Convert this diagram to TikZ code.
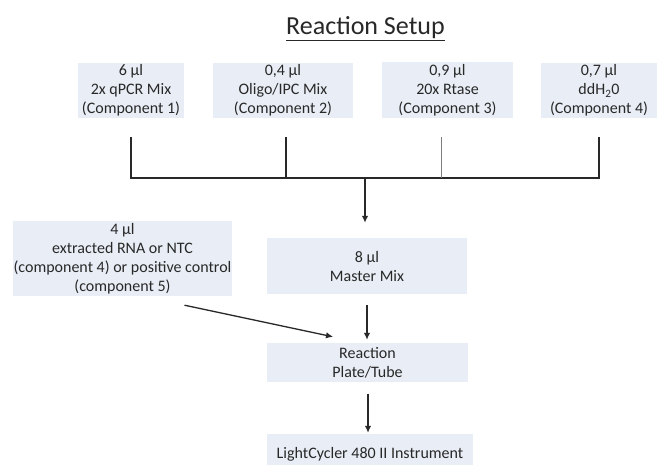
\documentclass[tikz,border=0pt]{standalone}
\usepackage{fontspec}
\setmainfont{Carlito}
\usetikzlibrary{arrows.meta}
\definecolor{boxfill}{RGB}{233,238,246}
\definecolor{ink}{RGB}{40,40,40}
\begin{document}
\begin{tikzpicture}[x=1pt,y=-1pt,
  boxnode/.style={fill=boxfill, draw=none, inner sep=0pt, align=center, text=ink,
    font=\fontsize{16}{19}\selectfont},
  ln/.style={draw=ink, line width=1.3pt},
  thinln/.style={draw=ink!60, line width=0.7pt},
  arr/.style={draw=ink, line width=1.3pt, -{Latex[length=7pt,width=6.5pt]}}]
\useasboundingbox (0,0) rectangle (659,464);
\fill[white] (0,0) rectangle (659,464);
% title
\node[text=ink, font=\fontsize{26}{31}\selectfont, inner sep=0pt] (title) at (365.5,29) {\underline{Reaction Setup}};
% top boxes
\node[boxnode, minimum width=106pt, minimum height=55pt] (b1) at (131,90.5) {6 µl\\2x qPCR Mix\\(Component 1)};
\node[boxnode, minimum width=140pt, minimum height=55pt] (b2) at (283,90.5) {0,4 µl\\Oligo/IPC Mix\\(Component 2)};
\node[boxnode, minimum width=131pt, minimum height=56pt] (b3) at (447.5,90) {0,9 µl\\20x Rtase\\(Component 3)};
\node[boxnode, minimum width=116pt, minimum height=55pt] (b4) at (599,90.5) {0,7 µl\\ddH\textsubscript{2}0\\(Component 4)};
% junction
\coordinate (j) at (365,178);
% middle boxes
\node[boxnode, minimum width=219pt, minimum height=75pt] (L) at (122.5,258.5) {4 µl\\extracted RNA or NTC\\(component 4) or positive control\\(component 5)};
\node[boxnode, minimum width=200pt, minimum height=56pt] (M) at (367,266) {8 µl\\Master Mix};
\node[boxnode, minimum width=201pt, minimum height=39pt] (R) at (367.5,362.5) {Reaction\\Plate/Tube};
\node[boxnode, minimum width=206pt, minimum height=40pt] (LC) at (370,454) {LightCycler 480 II Instrument};
% connectors
\draw[ln] ([yshift=-19pt]b1.south) -- (b1.south |- j) -- (b4.south |- j) -- ([yshift=-19pt]b4.south);
\draw[ln] ([xshift=3pt,yshift=-19pt]b2.south) -- ([xshift=3pt]b2.south |- j);
\draw[thinln] ([xshift=-6.5pt,yshift=-19pt]b3.south) -- ([xshift=-6.5pt]b3.south |- j);
\draw[arr] (j) -- ([yshift=15pt]j |- M.north);
\draw[arr] ([yshift=-11pt]M.south) -- ([yshift=3pt]M.south |- R.north);
\draw[arr] ([xshift=62pt,yshift=-9pt]L.south) -- ([xshift=-34.5pt,yshift=6pt]R.north);
\draw[arr] ([xshift=0.5pt,yshift=-11.5pt]R.south) -- ([xshift=-2pt,yshift=1pt]LC.north);
\end{tikzpicture}
\end{document}
